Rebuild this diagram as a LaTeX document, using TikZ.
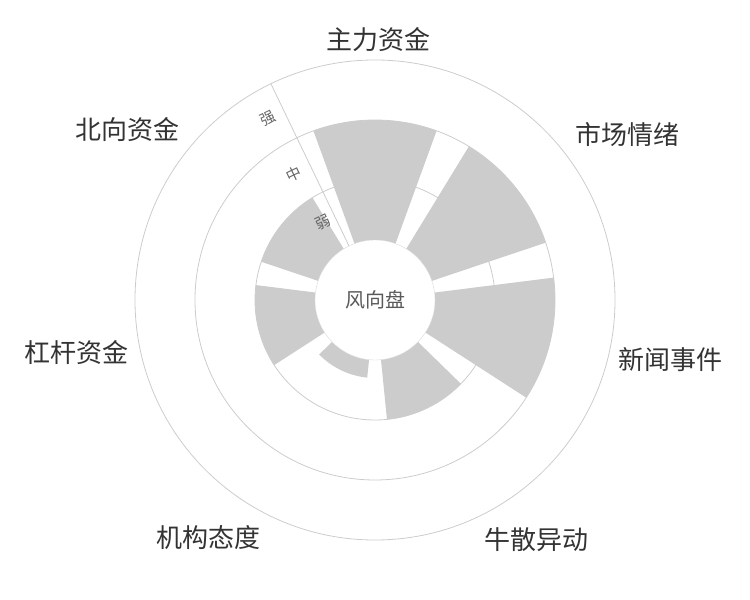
\documentclass[tikz,border=0pt]{standalone}
\usepackage{fontspec}
\setmainfont{Noto Sans CJK SC}
\begin{document}
\begin{tikzpicture}[x=1pt,y=1pt,
  grid/.style={draw=black!20,line width=0.8pt},
  bar/.style={fill=black!20},
  cat/.style={font=\fontsize{26}{28}\selectfont,text=black!80},
  lvl/.style={font=\fontsize{15}{16}\selectfont,text=black!60,rotate=25.7}]
\useasboundingbox (0,0) rectangle (750,600);
\begin{scope}[shift={(375,300)}]
\coordinate (c) at (0,0);
\foreach \r in {120,180,240}{\draw[grid] (c) circle[radius=\r];}
\foreach \i/\R in {0/180,1/180,2/180,3/120,4/78,5/120,6/120}{
  \pgfmathsetmacro{\ca}{90-\i*51.4286}
  \pgfmathsetmacro{\aa}{\ca+20}
  \pgfmathsetmacro{\ab}{\ca-20}
  \fill[bar] (\aa:60) arc[start angle=\aa,end angle=\ab,radius=60] -- (\ab:\R) arc[start angle=\ab,end angle=\aa,radius=\R] -- cycle;
}
\draw[grid] (115.71:60) -- (115.71:240);
\node[circle,draw=black!15,fill=white,minimum size=120,inner sep=0,font=\fontsize{20}{22}\selectfont,text=black!65] (hub) at (c) {风向盘};
\node[lvl] (weak) at (124:94) {弱};
\node[lvl] (mid) at (123:150) {中};
\node[lvl] (strong) at (120.5:211) {强};
\end{scope}
\node[cat] (l1) at (378,560) {主力资金};
\node[cat] (l2) at (627,465) {市场情绪};
\node[cat] (l3) at (670,240) {新闻事件};
\node[cat] (l4) at (536,60) {牛散异动};
\node[cat] (l5) at (208,62) {机构态度};
\node[cat] (l6) at (76,247) {杠杆资金};
\node[cat] (l7) at (127,470) {北向资金};
\end{tikzpicture}
\end{document}
